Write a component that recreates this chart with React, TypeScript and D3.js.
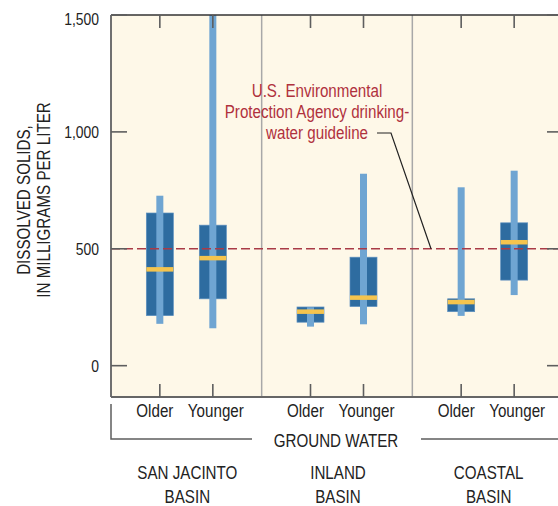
import React from 'react';
import * as d3 from 'd3';

// ---- data ----
const basins = ['SAN JACINTO', 'INLAND', 'COASTAL'];
const basinSuffix = 'BASIN';
const ages = ['Older', 'Younger'];
// order: SJ Older, SJ Younger, Inland Older, Inland Younger, Coastal Older, Coastal Younger
const minVals = [179, 160, 167, 177, 213, 302];
const q1Vals = [214, 286, 186, 253, 231, 366];
const medVals = [412, 460, 231, 291, 272, 528];
const q3Vals = [653, 601, 251, 464, 286, 611];
const maxVals = [727, 1600, 250, 821, 763, 834];
const yTicks = [0, 500, 1000, 1500];
const guideline = 500;
const annotationLines = ['U.S. Environmental', 'Protection Agency drinking-', 'water guideline'];
const yTitle = ['DISSOLVED SOLIDS,', 'IN MILLIGRAMS PER LITER'];
const groupTitle = 'GROUND WATER';

// ---- layout ----
const W = 558;
const H = 506;
const L = 111;
const R = 563;
const T = 15;
const B = 397;
const FONT = "'Liberation Sans', Arial, sans-serif";
const SX = 0.82; // horizontal condensing to emulate a narrow face
const C = {
  bg: '#FEF8E8',
  box: '#2E6CA0',
  whisk: '#6FA5D2',
  med: '#F5C44E',
  red: '#B0313D',
  dash: '#A93B47',
  divider: '#A8A8A8',
  axis: '#5E5E5E',
  text: '#222',
};

type NTProps = {
  x: number;
  y: number;
  size: number;
  anchor?: 'start' | 'middle' | 'end';
  fill?: string;
  rotate?: number;
  baseline?: string;
  children: React.ReactNode;
};

function NText({ x, y, size, anchor = 'middle', fill = C.text, rotate = 0, baseline, children }: NTProps) {
  return (
    <text
      transform={`translate(${x},${y}) rotate(${rotate}) scale(${SX},1)`}
      textAnchor={anchor}
      fontSize={size}
      fill={fill}
      dominantBaseline={baseline}
    >
      {children}
    </text>
  );
}

export default function App() {
  const y = d3.scaleLinear().domain([-134, 1500]).range([B, T]);
  const gx = d3.scaleBand<string>().domain(basins).range([L, R]);
  const ax = d3.scalePoint<string>().domain(ages).range([-26.5, 26.5]);
  const rows = basins.flatMap((b, gi) =>
    ages.map((a, ai) => {
      const i = gi * 2 + ai;
      return {
        basin: b,
        age: a,
        x: (gx(b) as number) + gx.bandwidth() / 2 + (ax(a) as number),
        min: minVals[i],
        q1: q1Vals[i],
        med: medVals[i],
        q3: q3Vals[i],
        max: maxVals[i],
      };
    })
  );
  const boxW = 27;
  const whW = 7;
  const medH = 4.5;
  const dividers = basins.slice(1).map((b) => gx(b) as number);
  const gy = y(guideline);
  const gtCenter = 336;

  return (
    <svg
      width={W}
      height={H}
      style={{ position: 'absolute', left: 0, top: 0, display: 'block', background: '#fff' }}
      fontFamily={FONT}
    >
      <defs>
        <clipPath id="plotclip">
          <rect x={L} y={T} width={R - L} height={B - T} />
        </clipPath>
      </defs>
      <rect x={L} y={T} width={R - L} height={B - T} fill={C.bg} />

      {dividers.map((d, i) => (
        <line key={i} x1={d} x2={d} y1={T} y2={B} stroke={C.divider} strokeWidth={1.5} />
      ))}

      <g clipPath="url(#plotclip)">
        {rows.map((r, i) => (
          <g key={i}>
            <rect
              x={r.x - boxW / 2}
              y={y(r.q3)}
              width={boxW}
              height={y(r.q1) - y(r.q3)}
              fill={C.box}
              stroke="#5C8FBF"
              strokeWidth={0.7}
            />
            <rect
              x={r.x - whW / 2}
              y={y(r.max)}
              width={whW}
              height={y(r.min) - y(r.max)}
              fill={C.whisk}
            />
            <rect
              x={r.x - boxW / 2}
              y={y(r.med) - medH / 2}
              width={boxW}
              height={medH}
              fill={C.med}
            />
          </g>
        ))}
        <line x1={L} x2={R} y1={gy} y2={gy} stroke={C.dash} strokeWidth={1.6} strokeDasharray="9,4" />
      </g>

      {/* axes frame */}
      <line x1={L} x2={R} y1={T} y2={T} stroke="#333" strokeWidth={1.6} />
      <line x1={L} x2={L} y1={T} y2={B} stroke="#707070" strokeWidth={2} />
      <line x1={L} x2={R} y1={B} y2={B} stroke="#666" strokeWidth={2} />

      {/* y ticks left & right */}
      {yTicks.map((t) => (
        <g key={t}>
          <line x1={L} x2={L + 16} y1={y(t)} y2={y(t)} stroke={C.axis} strokeWidth={1.6} />
          <line x1={R - 16} x2={R} y1={y(t)} y2={y(t)} stroke={C.axis} strokeWidth={1.6} />
          <NText x={99} y={Math.max(y(t), 19) + 6} size={17} anchor="end">
            {d3.format(',')(t)}
          </NText>
        </g>
      ))}

      {/* category ticks top & bottom */}
      {rows.map((r, i) => (
        <g key={i}>
          <line x1={r.x} x2={r.x} y1={T} y2={T + 13} stroke={C.axis} strokeWidth={1.6} />
          <line x1={r.x} x2={r.x} y1={B} y2={B - 13} stroke={C.axis} strokeWidth={1.6} />
          <NText x={r.x + (r.age === 'Older' ? -5 : 3)} y={417} size={18.5}>
            {r.age}
          </NText>
        </g>
      ))}

      {/* group bracket */}
      <path
        d={`M${L},404 V439 H${gtCenter - 84} M${gtCenter + 85},439 H${W}`}
        fill="none"
        stroke={C.axis}
        strokeWidth={1.5}
      />
      <NText x={gtCenter} y={447} size={18.5}>
        {groupTitle}
      </NText>

      {/* basin labels */}
      {basins.map((b) => {
        const cx = (gx(b) as number) + gx.bandwidth() / 2 + 1;
        return (
          <g key={b}>
            <NText x={cx} y={479} size={18.5}>
              {b}
            </NText>
            <NText x={cx} y={503} size={18.5}>
              {basinSuffix}
            </NText>
          </g>
        );
      })}

      {/* y title */}
      {yTitle.map((s, i) => (
        <NText key={i} x={30 + i * 19.5} y={200} size={18.5} rotate={-90}>
          {s}
        </NText>
      ))}

      {/* annotation */}
      {annotationLines.map((s, i) => (
        <NText key={i} x={317} y={97 + i * 21} size={18.5} fill={C.red}>
          {s}
        </NText>
      ))}
      <polyline
        points={`377,133 391,133 431,${gy}`}
        fill="none"
        stroke="#222"
        strokeWidth={1.2}
      />
    </svg>
  );
}
